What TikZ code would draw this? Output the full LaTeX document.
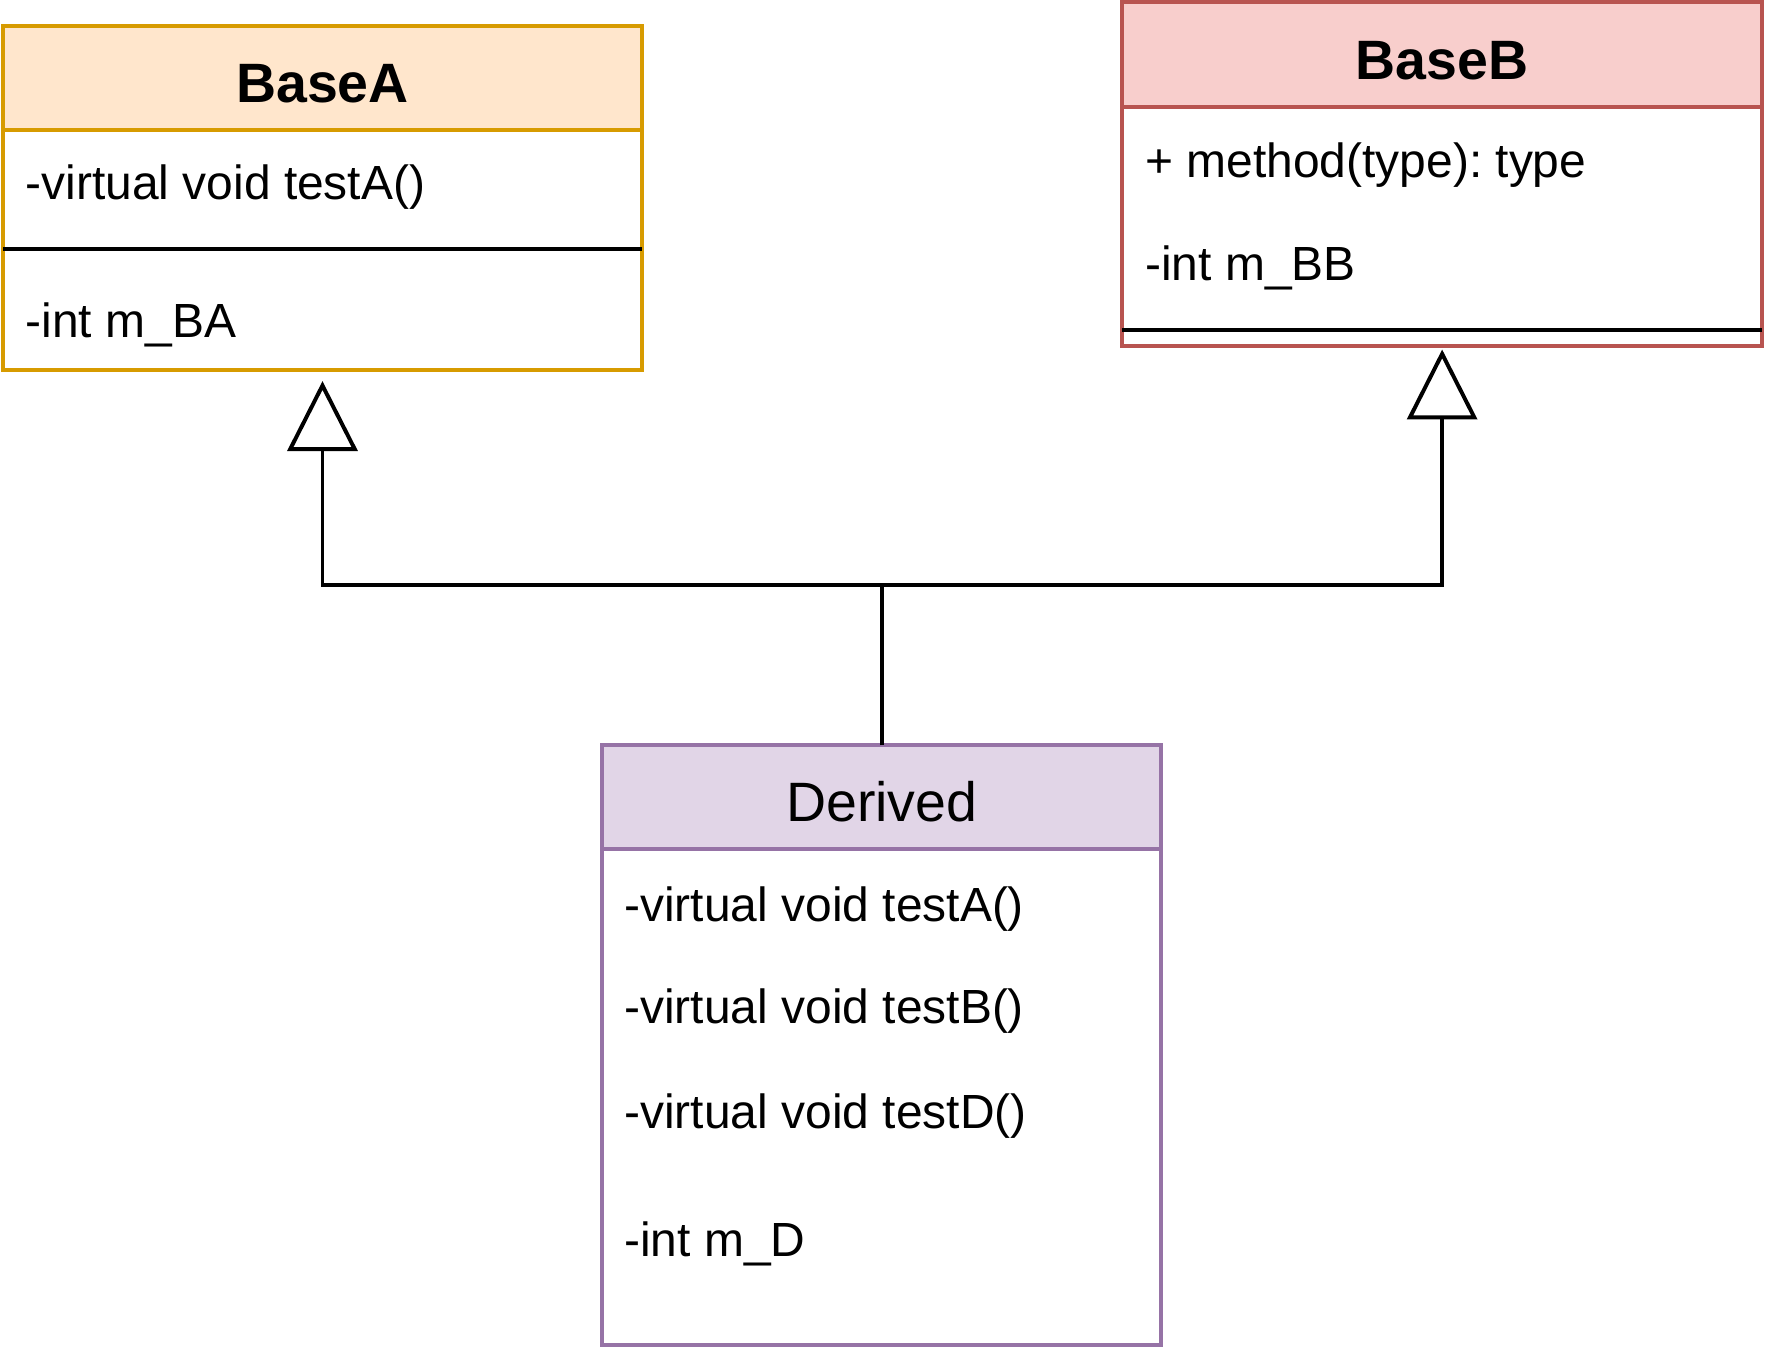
\documentclass[tikz,border=0pt]{standalone}
\usepackage{fontspec}
\setmainfont{Liberation Sans}
\usepackage{tikz}
\usetikzlibrary{arrows.meta,positioning}
\definecolor{afill}{HTML}{FFE6CC}
\definecolor{aline}{HTML}{D79B00}
\definecolor{bfill}{HTML}{F8CECC}
\definecolor{bline}{HTML}{B85450}
\definecolor{dfill}{HTML}{E1D5E7}
\definecolor{dline}{HTML}{9673A6}
\tikzstyle{classhead} = [rectangle,line width=0.35mm,inner sep=0pt,outer sep=0pt,text height=12.5pt,text depth=0pt,font=\fontsize{14}{16}\selectfont]
\tikzstyle{classbody} = [rectangle,line width=0.35mm,fill=white,inner sep=0pt,outer sep=0pt]
\tikzstyle{attr} = [anchor=base west,inner sep=0pt,font=\fontsize{12.1}{14}\selectfont]
\tikzstyle{divider} = [line width=0.35mm]
\tikzstyle{inherit} = [line width=0.35mm,-{Triangle[open,length=6.2mm,width=6.2mm]}]
\frenchspacing

\begin{document}
\begin{tikzpicture}[x=0.1mm,y=-0.1mm]
    \useasboundingbox (0,0) rectangle (1568,1206);

    \node [classhead,fill=afill,draw=aline,minimum width=5.66cm,minimum height=0.92cm] (baseA) at (286,69) {\bfseries BaseA};
    \node [classbody,draw=aline,minimum width=5.66cm,minimum height=2.13cm,below=0pt of baseA] (baseAbody) {};
    \node [attr] (baseAm1) at (22,177) {-virtual void testA()};
    \node [attr] (baseAm2) at (22,299) {-int m\_BA};
    \draw [divider] (baseAbody.west |- 0,221) -- (baseAbody.east |- 0,221);

    \node [classhead,fill=bfill,draw=bline,minimum width=5.68cm,minimum height=0.93cm] (baseB) at (1279,48.5) {\bfseries BaseB};
    \node [classbody,draw=bline,minimum width=5.68cm,minimum height=2.12cm,below=0pt of baseB] (baseBbody) {};
    \node [attr] (baseBm1) at (1015,157) {+ method(type): type};
    \node [attr] (baseBm2) at (1015,249) {-int m\_BB};
    \draw [divider] (baseBbody.west |- 0,293) -- (baseBbody.east |- 0,293);

    \node [classhead,fill=dfill,draw=dline,minimum width=4.96cm,minimum height=0.92cm] (derived) at (782,707) {Derived};
    \node [classbody,draw=dline,minimum width=4.96cm,minimum height=4.40cm,below=0pt of derived] (derivedbody) {};
    \node [attr] (derivedm1) at (553,817) {-virtual void testA()};
    \node [attr] (derivedm2) at (553,908) {-virtual void testB()};
    \node [attr] (derivedm3) at (553,1001) {-virtual void testD()};
    \node [attr] (derivedm4) at (553,1114) {-int m\_D};

    \coordinate (joint) at (derived.north |- 0,519);
    \draw [line width=0.35mm] (derived.north) -- (joint);
    \draw [inherit] (joint) -| ([yshift=-1mm]baseAbody.south);
    \draw [inherit] (joint) -| ([yshift=-0.3mm]baseBbody.south);
\end{tikzpicture}
\end{document}
